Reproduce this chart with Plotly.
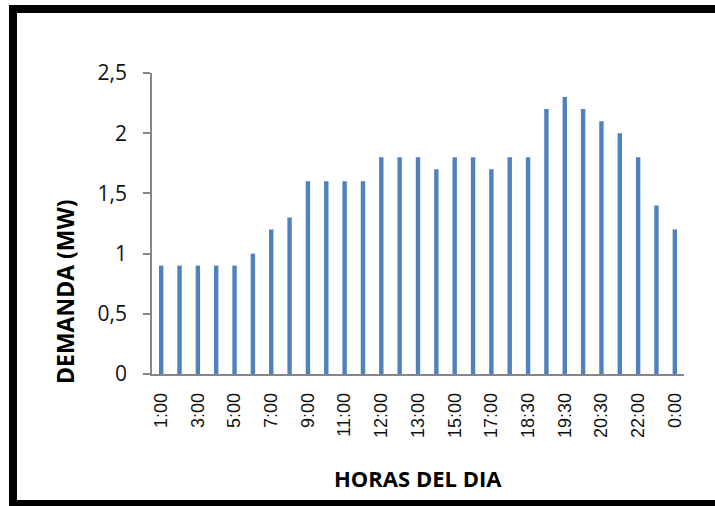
import plotly.graph_objects as go

hours = ["1:00", "2:00", "3:00", "4:00", "5:00", "6:00", "7:00", "8:00", "9:00", "10:00",
         "11:00", "11:30", "12:00", "12:30", "13:00", "14:00", "15:00", "16:00", "17:00", "18:00",
         "18:30", "19:00", "19:30", "20:00", "20:30", "21:00", "22:00", "23:00", "0:00"]
demand = [0.9, 0.9, 0.9, 0.9, 0.9, 1.0, 1.2, 1.3, 1.6, 1.6,
          1.6, 1.6, 1.8, 1.8, 1.8, 1.7, 1.8, 1.8, 1.7, 1.8,
          1.8, 2.2, 2.3, 2.2, 2.1, 2.0, 1.8, 1.4, 1.2]
tick_labels = hours[::2]
y_ticks = [0, 0.5, 1, 1.5, 2, 2.5]

W, H = 715, 506
L, R, T, B = 152, 684, 73, 374

def px(x):
    return (x - L) / (R - L)

def py(y):
    return (B - y) / (B - T)

fig = go.Figure(go.Bar(x=hours, y=demand, marker=dict(color="#4f81bd", line=dict(width=0))))

fig.update_layout(
    width=W, height=H,
    margin=dict(l=L, r=W - R, t=T, b=H - B, pad=0),
    paper_bgcolor="white", plot_bgcolor="white",
    separators=",.",
    bargap=0.76,
    showlegend=False,
    font=dict(family="Liberation Sans, Arial, sans-serif", color="#000000"),
)
fig.update_xaxes(
    type="category", categoryorder="array", categoryarray=hours,
    tickmode="array", tickvals=tick_labels, ticktext=tick_labels,
    tickangle=-90, tickfont=dict(size=18, family="Liberation Sans, Arial", color="#111111"),
    showline=True, linecolor="#868686", linewidth=1.5, ticks="", showgrid=False,
    zeroline=False, ticklabelstandoff=10,
)
fig.update_yaxes(
    range=[0, 2.5], tickvals=y_ticks,
    tickfont=dict(size=21, family="Open Sans, Lato, sans-serif", color="#111111"),
    showline=True, linecolor="#868686", linewidth=1.5, ticks="outside", ticklen=7,
    tickcolor="#868686", tickwidth=1.5, showgrid=False, zeroline=False,
    ticklabelstandoff=12,
)

fig.add_annotation(text="<b>HORAS DEL DIA</b>", xref="paper", yref="paper",
                   x=px(418), y=py(478), xanchor="center", yanchor="middle", showarrow=False,
                   font=dict(size=22, family="Open Sans, Lato, sans-serif", color="#000000"))
fig.add_annotation(text="<b>DEMANDA (MW)</b>", xref="paper", yref="paper",
                   x=px(65), y=py(292), xanchor="center", yanchor="middle", showarrow=False,
                   textangle=-90,
                   font=dict(size=23, family="Open Sans, Lato, sans-serif", color="#000000"))

# thick black frame (right edge lies outside the picture)
fig.add_shape(type="rect", xref="paper", yref="paper",
              x0=px(13), x1=px(740), y0=py(504), y1=py(9),
              line=dict(color="black", width=8), fillcolor="rgba(0,0,0,0)", layer="above")

fig.write_html("out.html")
